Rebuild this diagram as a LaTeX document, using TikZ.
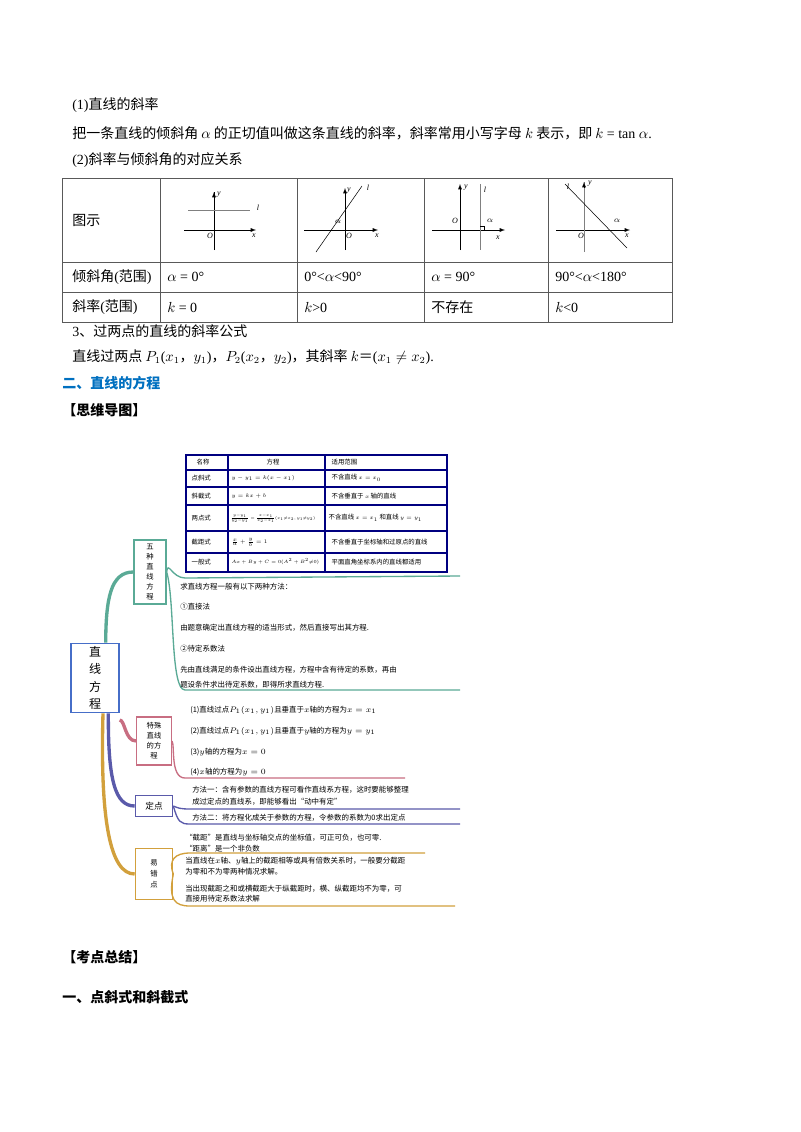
\documentclass[tikz,border=0pt]{standalone}
\usepackage{fontspec}
\setmainfont{Liberation Serif}
\newfontfamily\cjk{Noto Sans CJK SC}
\definecolor{cteal}{RGB}{90,170,150}
\definecolor{cpink}{RGB}{200,110,130}
\definecolor{cblu}{RGB}{90,90,170}
\definecolor{cgold}{RGB}{210,160,60}
\definecolor{croot}{RGB}{70,110,200}
\definecolor{chead}{RGB}{0,112,192}
\newcommand{\rl}[1]{{\rmfamily #1}}
\begin{document}
\begin{tikzpicture}[x=0.75pt,y=-0.75pt,
 tx/.style={anchor=west,inner sep=0pt,font=\cjk\fontsize{10.5}{12}\selectfont},
 mm/.style={anchor=west,inner sep=0pt,font=\cjk\fontsize{5.6}{7}\selectfont},
 mt/.style={anchor=west,inner sep=1pt,font=\cjk\fontsize{4.8}{6}\selectfont},
 bx/.style={draw,line width=1pt,align=center,inner sep=2pt,font=\cjk\fontsize{6.5}{8.5}\selectfont},
 ax/.style={->,>=latex,line width=0.4pt},
 ln/.style={line width=0.4pt},
 sm/.style={font=\fontsize{6}{7}\selectfont\itshape,inner sep=1pt}]
\useasboundingbox (0,0) rectangle (800,1132);
\fill[white] (0,0) rectangle (800,1132);
\node[tx] (t1) at (72,105) {\rl{(1)}直线的斜率};
\node[tx] (t2) at (72,133) {把一条直线的倾斜角 $\alpha$ 的正切值叫做这条直线的斜率，斜率常用小写字母 $k$ 表示，即 \rl{$k$ = tan $\alpha$.}};
\node[tx] (t3) at (72,160) {\rl{(2)}斜率与倾斜角的对应关系};
% table
\draw[line width=0.6pt,gray!70!black] (62,178) rectangle (672,322);
\foreach \y in {262,292} \draw[line width=0.6pt,gray!70!black] (62,\y)--(672,\y);
\foreach \x in {160,297,424,548} \draw[line width=0.6pt,gray!70!black] (\x,178)--(\x,322);
\node[tx] (g1) at (72,220) {图示};
\node[tx] (g2) at (72,277) {倾斜角\rl{(}范围\rl{)}};
\node[tx] (g3) at (72,307) {斜率\rl{(}范围\rl{)}};
\node[tx] (a1) at (167,277) {\rl{$\alpha$ = 0°}};
\node[tx] (a2) at (304,277) {\rl{0°<$\alpha$<90°}};
\node[tx] (a3) at (431,277) {\rl{$\alpha$ = 90°}};
\node[tx] (a4) at (555,277) {\rl{90°<$\alpha$<180°}};
\node[tx] (k1) at (167,307) {\rl{$k$ = 0}};
\node[tx] (k2) at (304,307) {\rl{$k$>0}};
\node[tx] (k3) at (431,307) {不存在};
\node[tx] (k4) at (555,307) {\rl{$k$<0}};
% figure 1
\draw[ax] (184,230)--(256,230); \draw[ln] (214,250)--(214,192); \draw[->,>=latex,ln](214,200)--(214,192);
\draw[ln,gray] (188,210)--(250,210);
\node[sm] at (258,208) {l}; \node[sm] at (219,195) {y}; \node[sm] at (210,236) {O}; \node[sm] at (254,236) {x};
% figure 2
\draw[ax] (304,230)--(378,230); \draw[ax] (345,250)--(345,188);
\draw[ln] (316,252)--(362,186);
\node[sm] at (349,191) {y}; \node[sm] at (368,188) {l}; \node[sm] at (349,236) {O}; \node[sm] at (377,236) {x}; \node[sm] at (338,222) {$\alpha$};
% figure 3
\draw[ax] (432,230)--(505,230); \draw[ax] (460,250)--(460,184);
\draw[ln,gray] (480,184)--(480,250);
\draw[ln] (480,226)--(484,226)--(484,230);
\node[sm] at (466,188) {y}; \node[sm] at (485,190) {l}; \node[sm] at (455,221) {O}; \node[sm] at (490,221) {$\alpha$}; \node[sm] at (498,238) {x};
% figure 4
\draw[ax] (556,230)--(630,230); \draw[ln,gray] (584,252)--(584,182); \draw[->,>=latex,ln](584,188)--(584,182);
\draw[ln] (565,184)--(627,248);
\node[sm] at (590,184) {y}; \node[sm] at (568,187) {l}; \node[sm] at (581,236) {O}; \node[sm] at (617,221) {$\alpha$}; \node[sm] at (627,236) {x};
\node[tx] (t4) at (72,331) {\rl{3}、过两点的直线的斜率公式};
\node[tx] (t5) at (72,357) {直线过两点 \rl{$P_1$($x_1$}，\rl{$y_1$)}，\rl{$P_2$($x_2$}，\rl{$y_2$)}，其斜率 \rl{$k$}＝\rl{($x_1\neq x_2$).}};
\node[tx,font=\cjk\bfseries\fontsize{10.5}{12}\selectfont,text=chead] (h1) at (62,383) {二、直线的方程};
\node[tx,font=\cjk\bfseries\fontsize{10.5}{12}\selectfont] (h2) at (62,410) {【思维导图】};
\node[tx,font=\cjk\bfseries\fontsize{10.5}{12}\selectfont] (h3) at (62,957) {【考点总结】};
\node[tx,font=\cjk\bfseries\fontsize{10.5}{12}\selectfont] (h4) at (62,997) {一、点斜式和斜截式};
% mind map inner table
\draw[line width=1.2pt,blue!50!black] (186,455) rectangle (447,572);
\foreach \y in {470,487,505,531,553} \draw[line width=0.8pt,blue!50!black] (186,\y)--(447,\y);
\foreach \x in {228,325} \draw[line width=0.8pt,blue!50!black] (\x,455)--(\x,572);
\node[mt] at (195,462) {名称}; \node[mt] at (265,462) {方程}; \node[mt] at (330,462) {适用范围};
\node[mt] at (190,478) {点斜式}; \node[mt] at (230,478) {\scalebox{0.8}{$y-y_1=k(x-x_1)$}}; \node[mt] at (330,478) {不含直线 \scalebox{0.8}{$x=x_0$}};
\node[mt] at (190,496) {斜截式}; \node[mt] at (230,496) {\scalebox{0.8}{$y=kx+b$}}; \node[mt] at (330,496) {不含垂直于 \scalebox{0.8}{$x$} 轴的直线};
\node[mt] at (190,518) {两点式}; \node[mt] at (229,518) {\scalebox{0.6}{$\frac{y-y_1}{y_2-y_1}=\frac{x-x_1}{x_2-x_1}(x_1{\neq}x_2,y_1{\neq}y_2)$}}; \node[mt] at (327,518) {不含直线 \scalebox{0.8}{$x=x_1$} 和直线 \scalebox{0.8}{$y=y_1$}};
\node[mt] at (190,542) {截距式}; \node[mt] at (230,542) {\scalebox{0.8}{$\frac{x}{a}+\frac{y}{b}=1$}}; \node[mt] at (330,542) {不含垂直于坐标轴和过原点的直线};
\node[mt] at (190,562) {一般式}; \node[mt] at (230,562) {\scalebox{0.7}{$Ax+By+C=0(A^2+B^2{\neq}0)$}}; \node[mt] at (330,562) {平面直角坐标系内的直线都适用};
% boxes
\node[bx,draw=croot,minimum width=36pt,minimum height=52pt,font=\cjk\fontsize{9}{13}\selectfont] (root) at (95,678) {直\\线\\方\\程};
\node[bx,draw=cteal,minimum width=24pt,minimum height=48pt,font=\cjk\fontsize{5.5}{7.5}\selectfont] (b1) at (150,572) {五\\种\\直\\线\\方\\程};
\node[bx,draw=cpink,minimum width=26pt,minimum height=36pt,font=\cjk\fontsize{5.5}{7.5}\selectfont] (b2) at (154,741) {特殊\\直线\\的方\\程};
\node[bx,draw=cblu,minimum width=28pt,minimum height=16pt] (b3) at (154,806) {定点};
\node[bx,draw=cgold,minimum width=28pt,minimum height=38pt,font=\cjk\fontsize{5.5}{8}\selectfont] (b4) at (154,874) {易\\错\\点};
% connectors
\draw[line width=2.5pt,cteal] ([xshift=8pt]root.north) .. controls (106,600) and (110,572) .. (b1.west);
\draw[line width=2.5pt,cpink] ([yshift=-5pt]root.south east) .. controls (125,720) and (125,741) .. (b2.west);
\draw[line width=2.5pt,cblu] ([xshift=10pt]root.south) .. controls (108,780) and (115,806) .. (b3.west);
\draw[line width=2.5pt,cgold] ([xshift=6pt]root.south) .. controls (100,820) and (110,874) .. (b4.west);
% teal frame
\draw[line width=1pt,cteal] (b1.east) .. controls (168,560) and (172,578) .. (185,578) -- (460,576);
\draw[line width=1pt,cteal] (b1.east) .. controls (175,600) and (170,690) .. (185,690) -- (460,690);
\node[mm] at (180,587) {求直线方程一般有以下两种方法：};
\node[mm] at (180,607) {①直接法};
\node[mm] at (180,628) {由题意确定出直线方程的适当形式，然后直接写出其方程.};
\node[mm] at (180,649) {②待定系数法};
\node[mm] at (180,670) {先由直线满足的条件设出直线方程，方程中含有待定的系数，再由};
\node[mm] at (180,685) {题设条件求出待定系数，即得所求直线方程.};
% pink
\draw[line width=1pt,cpink] (b2.east) .. controls (175,745) and (170,778) .. (185,778) -- (405,778);
\node[mm] at (190,710) {(1)直线过点$P_1(x_1,y_1)$且垂直于$x$轴的方程为$x=x_1$};
\node[mm] at (190,731) {(2)直线过点$P_1(x_1,y_1)$且垂直于$y$轴的方程为$y=y_1$};
\node[mm] at (190,752) {(3)$y$轴的方程为$x=0$};
\node[mm] at (190,772) {(4)$x$轴的方程为$y=0$};
% blue
\draw[line width=1pt,cblu] (b3.east) .. controls (178,808) and (180,809) .. (190,809) -- (460,809);
\draw[line width=1pt,cblu] (b3.east) .. controls (178,822) and (180,824) .. (190,824) -- (460,824);
\node[mm] at (192,790) {方法一：含有参数的直线方程可看作直线系方程，这时要能够整理};
\node[mm] at (192,802) {成过定点的直线系，即能够看出“动中有定”};
\node[mm] at (192,818) {方法二：将方程化成关于参数的方程，令参数的系数为0求出定点};
% gold
\draw[line width=1pt,cgold] (b4.east) .. controls (168,860) and (175,853) .. (190,853) -- (425,853);
\draw[line width=1pt,cgold] (b4.east) .. controls (168,900) and (175,906) .. (190,906) -- (455,906);
\node[mm] at (185,838) {“截距”是直线与坐标轴交点的坐标值，可正可负，也可零.};
\node[mm] at (185,849) {“距离”是一个非负数};
\node[mm] at (185,861) {当直线在$x$轴、$y$轴上的截距相等或具有倍数关系时，一般要分截距};
\node[mm] at (185,872) {为零和不为零两种情况求解。};
\node[mm] at (185,889) {当出现截距之和或横截距大于纵截距时，横、纵截距均不为零，可};
\node[mm] at (185,899) {直接用待定系数法求解};
\end{tikzpicture}
\end{document}
